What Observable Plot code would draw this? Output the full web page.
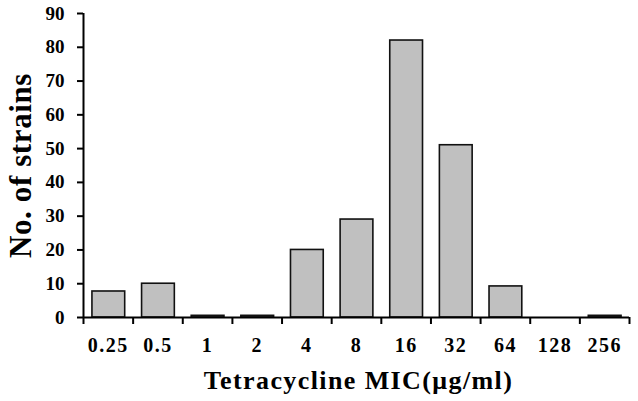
<!DOCTYPE html>
<html>
<head>
<meta charset="utf-8">
<script src="https://cdn.jsdelivr.net/npm/d3@7"></script>
<script src="https://cdn.jsdelivr.net/npm/@observablehq/plot@0.6"></script>
<style>
  html, body { margin: 0; padding: 0; background: #fff; }
  svg { display: block; }
</style>
</head>
<body>
<div id="chart"></div>
<script>
const categories = ["0.25", "0.5", "1", "2", "4", "8", "16", "32", "64", "128", "256"];
const strains = [7.7, 10, 0.5, 0.5, 20, 29, 82, 51, 9.2, 0, 0.5];
const yTicks = [0, 10, 20, 30, 40, 50, 60, 70, 80, 90];
const xTitle = "Tetracycline MIC(μg/ml)";
const yTitle = "No. of strains";

const data = categories.map((c, i) => ({cat: c, i, value: strains[i]}));
const boundaries = d3.range(categories.length + 1);
const font = "'Liberation Serif', 'Times New Roman', serif";

const chart = Plot.plot({
  width: 638,
  height: 401,
  marginLeft: 83,
  marginRight: 9,
  marginTop: 13,
  marginBottom: 84,
  style: {fontFamily: font, fontWeight: "bold", color: "#000", background: "#fff"},
  x: {type: "linear", domain: [0, categories.length], axis: null},
  y: {domain: [0, 90], axis: null},
  marks: [
    Plot.rectY(data, {
      x1: d => d.i + 0.18, x2: d => d.i + 0.84, y1: 0, y2: "value",
      fill: "#c0c0c0", stroke: "#111", strokeWidth: 1.6
    }),
    Plot.axisY(yTicks, {
      anchor: "left", tickSize: 6, tickPadding: 13, strokeWidth: 2,
      fontSize: 19, fontWeight: "bold", fill: "#000", label: null
    }),
    Plot.axisX(boundaries, {
      anchor: "bottom", tickSize: 7, strokeWidth: 2, tickFormat: () => "", label: null
    }),
    Plot.ruleX([0], {stroke: "#000", strokeWidth: 2}),
    Plot.ruleY([0], {stroke: "#000", strokeWidth: 2}),
    Plot.text(data, {
      x: d => d.i + 0.5, y: 0, text: "cat", dy: 28,
      fontSize: 20, fontWeight: "bold", fill: "#000"
    }),
    Plot.text([xTitle], {
      x: categories.length / 2, y: 0, text: d => d, dy: 63, dx: 2,
      fontSize: 26, fontWeight: "bold", fill: "#000"
    }),
    Plot.text([yTitle], {
      x: 0, y: 45, text: d => d, dx: -62, dy: 0, rotate: -90,
      fontSize: 31, fontWeight: "bold", fill: "#000"
    })
  ]
});
// widen letter spacing to mimic the horizontally stretched serif of the original
d3.select(chart).selectAll("text").each(function() {
  const t = this.textContent;
  if (t === xTitle) this.setAttribute("letter-spacing", "1.4");
  else if (t === yTitle) this.setAttribute("letter-spacing", "0.6");
  else if (categories.includes(t) && this.closest("g") && this.closest("g").getAttribute("aria-label") !== "y-axis tick label") this.setAttribute("letter-spacing", "1.5");
});
document.getElementById("chart").appendChild(chart);
</script>
</body>
</html>
